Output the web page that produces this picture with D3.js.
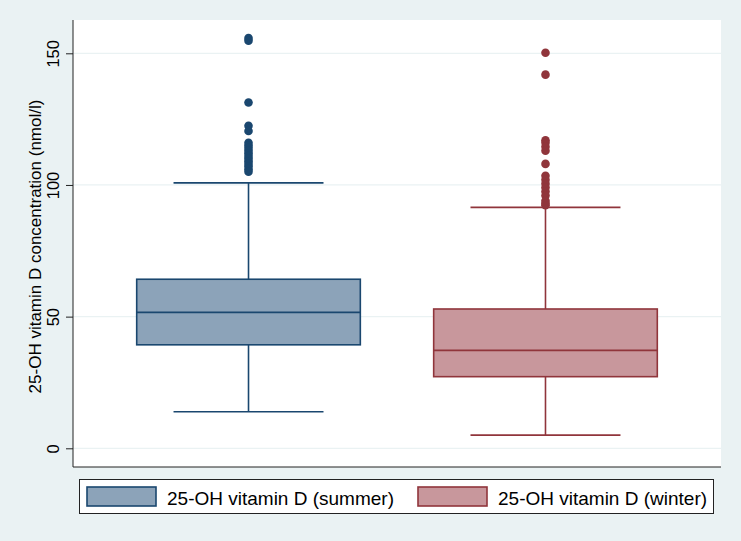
<!DOCTYPE html>
<html>
<head>
<meta charset="utf-8">
<script src="https://cdn.jsdelivr.net/npm/d3@7"></script>
<style>
  body { margin: 0; background: #eaf2f3; }
  text { font-family: "Liberation Sans", Arial, sans-serif; }
</style>
</head>
<body>
<script>
//Declare consts/global variables
const width = 741;
const height = 541;
const plot = {left: 73, right: 721, top: 20, bottom: 467};

//Data
const groups = ["25-OH vitamin D (summer)", "25-OH vitamin D (winter)"];
const q1 = [39.3, 27.2];
const medians = [51.6, 37.2];
const q3 = [64.2, 52.9];
const whiskLow = [13.9, 5.0];
const whiskHigh = [100.8, 91.5];
const outliersSummer = [155.8, 154.8, 131.3, 122.5, 120.5, 116, 115, 114, 113, 112, 111, 110, 109, 108, 107, 106, 105];
const outliersWinter = [150.2, 141.9, 117, 116, 114.5, 113, 108, 103.5, 102, 100.5, 99, 97.5, 96, 94, 93, 92.3];
const yTicks = [0, 50, 100, 150];

const fills = ["#8ca3b9", "#c8979c"];
const strokes = ["#1a476f", "#90353b"];

const boxes = groups.map((g, i) => ({
    group: g, q1: q1[i], median: medians[i], q3: q3[i],
    lo: whiskLow[i], hi: whiskHigh[i],
    outliers: i === 0 ? outliersSummer : outliersWinter,
    fill: fills[i], stroke: strokes[i]
}));

//Scales
const xScale = d3.scalePoint()
    .domain(groups)
    .range([plot.left, plot.right])
    .padding(0.591);

const yScale = d3.scaleLinear()
    .domain([0, 150])
    .range([448.3, 53.3]);

const boxW = xScale.step() * 0.753;
const capW = xScale.step() * 0.505;

//SVG
const svg = d3.select("body")
    .append("svg")
    .attr("width", width)
    .attr("height", height);

svg.append("rect")
    .attr("width", width).attr("height", height)
    .attr("fill", "#eaf2f3");

svg.append("rect")
    .attr("x", plot.left).attr("y", plot.top)
    .attr("width", plot.right - plot.left)
    .attr("height", plot.bottom - plot.top)
    .attr("fill", "#ffffff");

//Grid lines
svg.append("g")
    .selectAll("line")
    .data(yTicks)
    .enter()
    .append("line")
    .attr("x1", plot.left).attr("x2", plot.right)
    .attr("y1", d => yScale(d)).attr("y2", d => yScale(d))
    .attr("stroke", "#eaf2f3")
    .attr("stroke-width", 1.3);

//Boxes
const g = svg.append("g")
    .selectAll("g")
    .data(boxes)
    .enter()
    .append("g");

g.append("line")
    .attr("x1", d => xScale(d.group)).attr("x2", d => xScale(d.group))
    .attr("y1", d => yScale(d.hi)).attr("y2", d => yScale(d.lo))
    .attr("stroke", d => d.stroke)
    .attr("stroke-width", 1.6);

g.append("line")
    .attr("x1", d => xScale(d.group) - capW / 2).attr("x2", d => xScale(d.group) + capW / 2)
    .attr("y1", d => yScale(d.hi)).attr("y2", d => yScale(d.hi))
    .attr("stroke", d => d.stroke)
    .attr("stroke-width", 1.6);

g.append("line")
    .attr("x1", d => xScale(d.group) - capW / 2).attr("x2", d => xScale(d.group) + capW / 2)
    .attr("y1", d => yScale(d.lo)).attr("y2", d => yScale(d.lo))
    .attr("stroke", d => d.stroke)
    .attr("stroke-width", 1.6);

g.append("rect")
    .attr("x", d => xScale(d.group) - boxW / 2)
    .attr("y", d => yScale(d.q3))
    .attr("width", boxW)
    .attr("height", d => yScale(d.q1) - yScale(d.q3))
    .attr("fill", d => d.fill)
    .attr("stroke", d => d.stroke)
    .attr("stroke-width", 1.6);

g.append("line")
    .attr("x1", d => xScale(d.group) - boxW / 2).attr("x2", d => xScale(d.group) + boxW / 2)
    .attr("y1", d => yScale(d.median)).attr("y2", d => yScale(d.median))
    .attr("stroke", d => d.stroke)
    .attr("stroke-width", 1.6);

g.selectAll("circle")
    .data(d => d.outliers.map(v => ({v: v, group: d.group, c: d.stroke})))
    .enter()
    .append("circle")
    .attr("cx", d => xScale(d.group))
    .attr("cy", d => yScale(d.v))
    .attr("r", 4.3)
    .attr("fill", d => d.c);

//Axes
const leftAxis = d3.axisLeft(yScale)
    .tickValues(yTicks)
    .tickSize(7)
    .tickPadding(5);

const ax = svg.append("g")
    .attr("transform", "translate(" + plot.left + ",0)")
    .call(leftAxis);
ax.select(".domain")
    .attr("d", "M0," + plot.top + "V" + plot.bottom)
    .attr("stroke", "#222");
ax.selectAll(".tick line").attr("stroke", "#222");
ax.selectAll(".tick text")
    .attr("transform", "rotate(-90)")
    .attr("x", 0)
    .attr("y", -14)
    .attr("dy", null)
    .style("text-anchor", "middle")
    .style("font-size", "16.5px")
    .attr("fill", "#000");

svg.append("line")
    .attr("x1", plot.left).attr("x2", plot.right)
    .attr("y1", plot.bottom).attr("y2", plot.bottom)
    .attr("stroke", "#222");

svg.append("text")
    .attr("transform", "translate(41," + ((plot.top + plot.bottom) / 2 + 3) + ") rotate(-90)")
    .style("text-anchor", "middle")
    .style("font-size", "17px")
    .text("25-OH vitamin D concentration (nmol/l)");

//Legend
svg.append("rect")
    .attr("x", 79.5).attr("y", 479.5)
    .attr("width", 634).attr("height", 34)
    .attr("fill", "#ffffff")
    .attr("stroke", "#222");

const legX = [87, 418];
const lg = svg.append("g")
    .selectAll("g")
    .data(boxes)
    .enter()
    .append("g")
    .attr("transform", (d, i) => "translate(" + legX[i] + ",487)");

lg.append("rect")
    .attr("width", 69).attr("height", 19)
    .attr("fill", d => d.fill)
    .attr("stroke", d => d.stroke)
    .attr("stroke-width", 1.6);

lg.append("text")
    .attr("x", 80).attr("y", 17.5)
    .style("font-size", "19px")
    .text(d => d.group);
</script>
</body>
</html>
